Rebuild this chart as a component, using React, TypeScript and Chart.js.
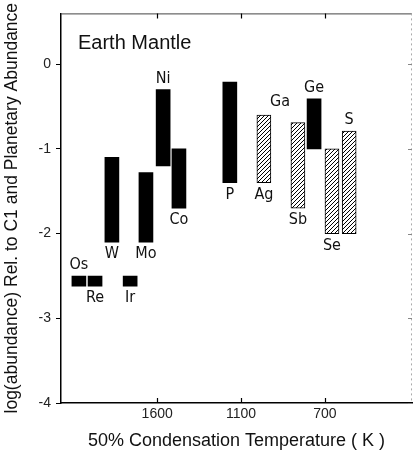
import React, { useEffect, useRef } from "react";
import { Chart, registerables } from "chart.js";

Chart.register(...registerables);

// ---- data ----
const elements = ["Os", "Re", "W", "Ir", "Mo", "Ni", "Co", "P", "Ag", "Sb", "Ge", "Se", "S"];
const xPos = [5.1, 9.7, 14.5, 19.7, 24.2, 29.1, 33.6, 48.1, 57.8, 67.5, 72.1, 77.2, 82.1];
const lows = [-2.62, -2.62, -2.1, -2.62, -2.1, -1.2, -1.7, -1.4, -1.4, -1.7, -1.0, -2.0, -2.0];
const highs = [-2.5, -2.5, -1.1, -2.5, -1.28, -0.3, -1.0, -0.21, -0.6, -0.69, -0.41, -1.0, -0.79];
const hatched = [false, false, false, false, false, false, false, false, true, true, false, true, true];
const labelSide = ["top", "bottom", "bottom", "bottom", "bottom", "top", "bottom", "bottom", "bottom", "bottom", "top", "bottom", "top"];

const noteNames = ["Ga"];
const noteX = [62.4];
const noteY = [-0.45];

const xTickValues = [27.4, 51.3, 75.2];
const xTickLabels = ["1600", "1100", "700"];
const yTickValues = [-4, -3, -2, -1, 0];

const FONT = "'Liberation Sans', Arial, sans-serif";
const NARROW = "'Liberation Sans Narrow', 'DejaVu Sans Condensed', 'Liberation Sans', sans-serif";

function makeHatch(): CanvasPattern | string {
  const c = document.createElement("canvas");
  c.width = 4;
  c.height = 4;
  const g = c.getContext("2d");
  if (!g) return "#888";
  g.fillStyle = "#fff";
  g.fillRect(0, 0, 4, 4);
  g.strokeStyle = "#000";
  g.lineWidth = 1;
  g.beginPath();
  g.moveTo(0, 4);
  g.lineTo(4, 0);
  g.moveTo(-1, 1);
  g.lineTo(1, -1);
  g.moveTo(3, 5);
  g.lineTo(5, 3);
  g.stroke();
  const p = g.createPattern(c, "repeat");
  return p || "#888";
}

const decorPlugin = {
  id: "decor",
  afterDatasetsDraw(chart: any) {
    const { ctx, chartArea, scales } = chart;
    const xs = scales.x;
    const ys = scales.y;
    ctx.save();
    // frame top & right
    ctx.strokeStyle = "#444";
    ctx.lineWidth = 1;
    ctx.beginPath();
    ctx.moveTo(chartArea.left, chartArea.top + 0.5);
    ctx.lineTo(chartArea.right, chartArea.top + 0.5);
    ctx.stroke();
    ctx.strokeStyle = "#aaa";
    ctx.setLineDash([2, 3]);
    ctx.beginPath();
    ctx.moveTo(chartArea.right - 0.5, chartArea.top);
    ctx.lineTo(chartArea.right - 0.5, chartArea.bottom);
    ctx.stroke();
    ctx.setLineDash([]);
    // inner x ticks at bottom and top
    ctx.strokeStyle = "#000";
    ctx.lineWidth = 1.2;
    xTickValues.forEach((v) => {
      const px = Math.round(xs.getPixelForValue(v)) + 0.5;
      ctx.beginPath();
      ctx.moveTo(px, chartArea.bottom);
      ctx.lineTo(px, chartArea.bottom - 5);
      ctx.moveTo(px, chartArea.top);
      ctx.lineTo(px, chartArea.top + 5);
      ctx.stroke();
    });
    // right side small ticks
    ctx.strokeStyle = "#888";
    ctx.lineWidth = 1;
    yTickValues.forEach((v) => {
      const py = Math.round(ys.getPixelForValue(v)) + 0.5;
      ctx.beginPath();
      ctx.moveTo(chartArea.right - 4, py);
      ctx.lineTo(chartArea.right, py);
      ctx.stroke();
    });
    // title
    ctx.fillStyle = "#111";
    ctx.font = `20px ${FONT}`;
    ctx.textAlign = "left";
    ctx.textBaseline = "alphabetic";
    ctx.fillText("Earth Mantle", chartArea.left + 17, chartArea.top + 36);
    // element labels
    ctx.font = `16px ${NARROW}`;
    ctx.textAlign = "center";
    elements.forEach((name, i) => {
      const px = xs.getPixelForValue(xPos[i]);
      if (labelSide[i] === "top") {
        ctx.textBaseline = "bottom";
        ctx.fillText(name, px, ys.getPixelForValue(highs[i]) - 3);
      } else {
        ctx.textBaseline = "top";
        ctx.fillText(name, px, ys.getPixelForValue(lows[i]) + 4);
      }
    });
    ctx.textBaseline = "middle";
    noteNames.forEach((name, i) => {
      ctx.fillText(name, xs.getPixelForValue(noteX[i]), ys.getPixelForValue(noteY[i]));
    });
    ctx.restore();
  },
};

export default function App() {
  const ref = useRef<HTMLCanvasElement | null>(null);
  useEffect(() => {
    document.body.style.margin = "0";
    const canvas = ref.current;
    if (!canvas) return;
    const hatch = makeHatch();
    const chart = new Chart(canvas, {
      type: "bar",
      data: {
        datasets: [
          {
            data: elements.map((_, i) => ({ x: xPos[i], y: [lows[i], highs[i]] })) as any,
            backgroundColor: hatched.map((h) => (h ? hatch : "#000")) as any,
            borderColor: "#000",
            borderWidth: hatched.map((h) => (h ? 1 : 0)),
            borderSkipped: false,
            barThickness: 14,
          },
        ],
      },
      options: {
        animation: false,
        responsive: false,
        devicePixelRatio: 1,
        layout: { padding: { top: 12, right: 4, left: 0, bottom: 0 } },
        plugins: { legend: { display: false }, tooltip: { enabled: false } },
        scales: {
          x: {
            type: "linear",
            min: 0,
            max: 100,
            offset: false,
            afterBuildTicks: (s: any) => {
              s.ticks = xTickValues.map((v) => ({ value: v }));
            },
            afterFit: (s: any) => {
              s.height = 54;
            },
            grid: { display: false, drawTicks: false, offset: false },
            border: { display: true, color: "#000", width: 1.5 },
            ticks: {
              padding: 3,
              color: "#222",
              font: { family: FONT, size: 14 },
              maxRotation: 0,
              callback: (_v: any, i: number) => xTickLabels[i],
            },
            title: {
              display: true,
              text: "50% Condensation Temperature ( K )",
              color: "#111",
              font: { family: FONT, size: 18 },
              padding: { top: 0, bottom: 5 },
            },
          },
          y: {
            min: -4,
            max: 0.6,
            afterBuildTicks: (s: any) => {
              s.ticks = yTickValues.map((v) => ({ value: v }));
            },
            afterFit: (s: any) => {
              s.width = 61;
            },
            grid: { drawOnChartArea: false, drawTicks: true, tickLength: 5, color: "#000" },
            border: { display: true, color: "#000", width: 1.5 },
            ticks: {
              padding: 5,
              color: "#222",
              font: { family: FONT, size: 14 },
              callback: (v: any) => (v === 0 ? "0" : String(v)),
            },
            title: {
              display: true,
              text: "log(abundance) Rel. to C1 and Planetary Abundance",
              color: "#111",
              font: { family: FONT, size: 17.5 },
              padding: { top: 2, bottom: 0 },
            },
          },
        },
      },
      plugins: [decorPlugin],
    });
    return () => chart.destroy();
  }, []);
  return <canvas ref={ref} width={416} height={457} style={{ display: "block", width: 416, height: 457 }} />;
}
